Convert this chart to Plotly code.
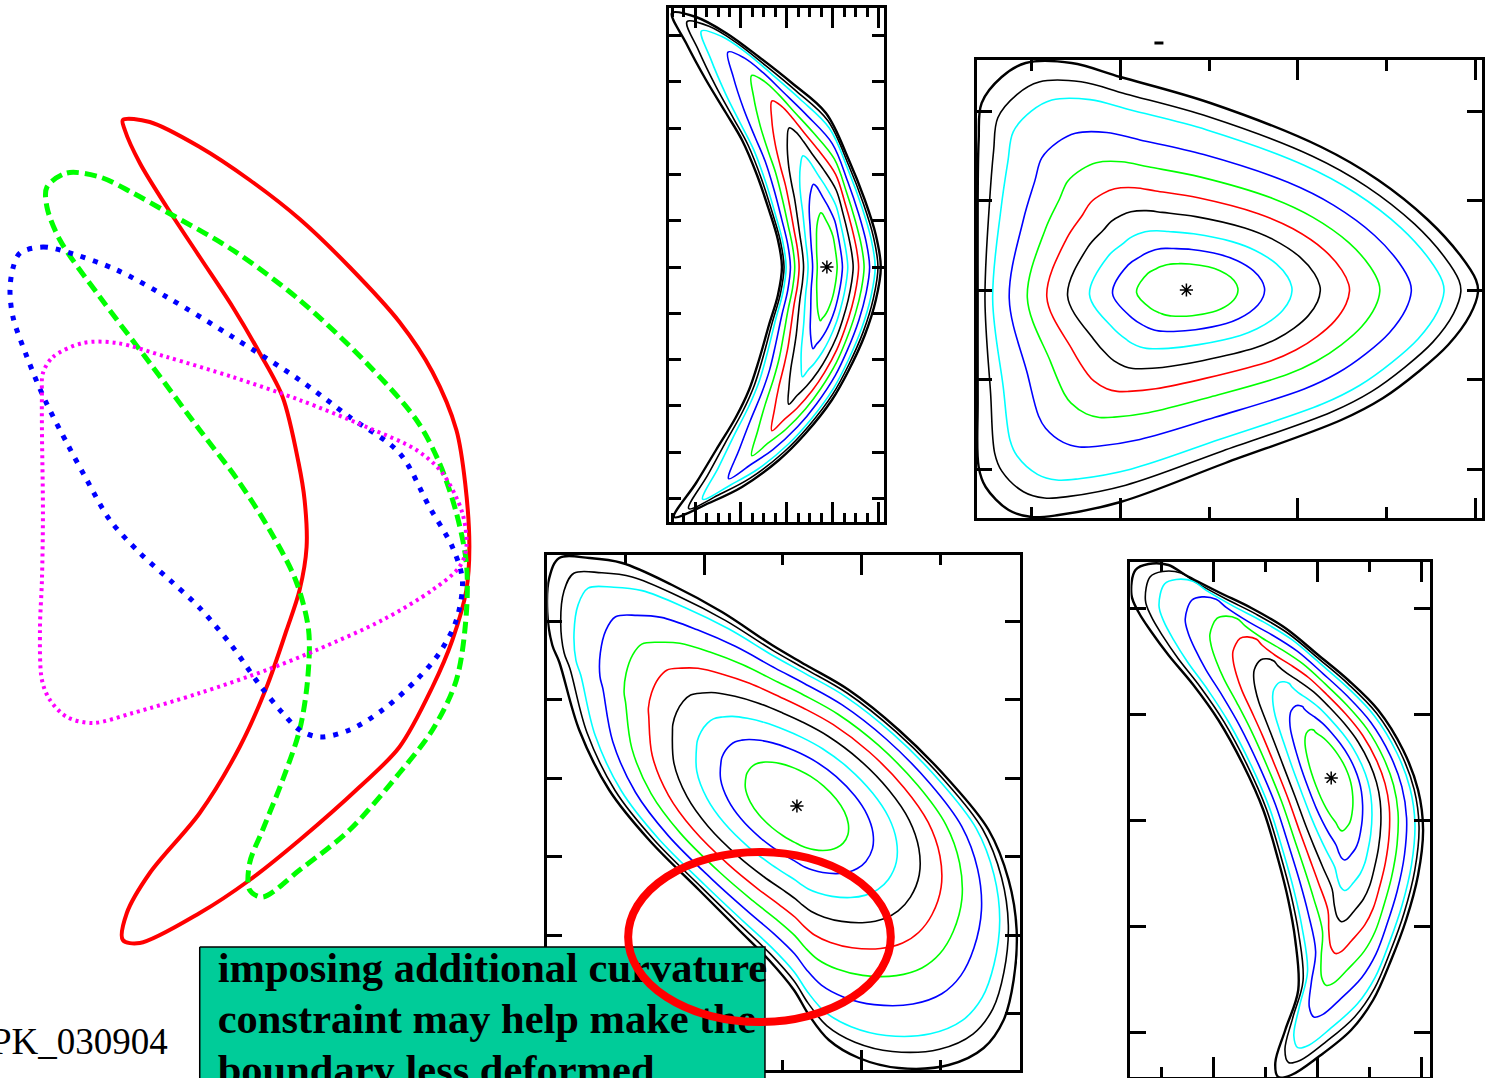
import numpy as np
import plotly.graph_objects as go

W, H = 1485, 1078

# ---------------- left: four boundary cross-sections (picture units, y down) ----------------
red_x = [123, 150, 200, 250, 300, 350, 400, 433, 457, 466, 470, 467, 453, 433, 400, 360, 300, 250, 200, 140, 123,
         127, 150, 200, 240, 267, 287, 300, 307, 305, 299, 283, 260, 233, 200, 167, 140, 125, 123]
red_y = [120, 122, 147, 180, 219, 267, 322, 372, 430, 485, 547, 590, 640, 687, 747, 787, 840, 880, 913, 943, 940,
         913, 873, 813, 747, 687, 630, 590, 547, 500, 463, 397, 353, 307, 257, 207, 163, 130, 120]

green_x = [47, 67, 100, 133, 167, 233, 300, 367, 417, 440, 457, 467, 467, 457, 433, 400, 350, 300, 263, 250, 250,
           263, 283, 300, 308, 309, 296, 270, 238, 200, 150, 100, 60, 47, 47]
green_y = [187, 173, 177, 193, 212, 250, 300, 363, 420, 463, 513, 563, 613, 680, 730, 773, 830, 870, 897, 890, 863,
           830, 780, 730, 680, 630, 580, 530, 480, 430, 363, 297, 240, 207, 187]

blue_x = [20, 43, 67, 117, 167, 233, 300, 350, 400, 430, 453, 463, 457, 440, 417, 383, 350, 320, 300, 283, 260,
          233, 200, 170, 140, 110, 87, 68, 45, 27, 13, 10, 13, 20]
blue_y = [253, 247, 252, 270, 297, 337, 380, 417, 453, 507, 547, 580, 620, 653, 680, 710, 730, 737, 730, 713, 685,
          647, 608, 580, 553, 520, 480, 445, 400, 357, 317, 290, 268, 253]

mag_x = [43, 53, 83, 117, 167, 233, 300, 367, 417, 443, 463, 467, 460, 433, 383, 317, 267, 200, 133, 93, 67, 50,
         42, 40, 42, 43, 42, 42, 43]
mag_y = [373, 357, 343, 343, 357, 377, 400, 427, 450, 473, 513, 547, 567, 590, 620, 650, 670, 693, 713, 723, 717,
         700, 680, 630, 580, 513, 430, 397, 373]

speck_x = [1156, 1165]
speck_y = [43, 43]

# ---------------- contour panels: boxes, boundaries, magnetic axes ----------------
# panel A (top middle, crescent)
A_box = [670, 885, 8, 522]
A_bx = [673, 697, 727, 760, 793, 827, 850, 866, 877, 882, 877, 866, 850, 833, 807, 780, 743, 710, 675,
        697, 717, 737, 750, 760, 770, 779, 783, 779, 770, 758, 743, 727, 707, 687, 673]
A_by = [13, 17, 33, 57, 83, 113, 160, 200, 235, 267, 300, 335, 370, 400, 433, 460, 487, 503, 517,
        483, 450, 417, 390, 360, 325, 295, 267, 240, 210, 175, 140, 113, 80, 43, 13]
A_axis = (828, 267)
A_bend = (530, 267)

# panel B (top right, rounded triangle)
B_box = [978, 1484, 60, 518]
B_bx = [980, 983, 1003, 1027, 1073, 1122, 1212, 1323, 1380, 1430, 1462, 1478, 1480, 1472, 1450, 1420, 1385, 1343,
        1227, 1122, 1060, 1033, 1010, 987, 980, 979, 979, 979, 980]
B_by = [140, 103, 77, 63, 63, 77, 103, 147, 180, 220, 255, 280, 292, 315, 345, 372, 398, 420,
        463, 502, 515, 517, 510, 487, 467, 400, 300, 200, 140]
B_axis = (1188, 290)
B_bend = None

# panel C (bottom middle, tilted drop)
C_box = [548, 1021, 555, 1070]
C_bx = [550, 560, 590, 623, 673, 723, 773, 807, 850, 900, 950, 990, 1010, 1018, 1015, 1005, 985, 950, 900, 860,
        830, 810, 795, 770, 740, 700, 650, 610, 580, 560, 553, 548, 550]
C_by = [578, 558, 558, 563, 585, 612, 645, 665, 690, 730, 780, 830, 880, 930, 980, 1020, 1048, 1065, 1068, 1058,
        1040, 1015, 990, 960, 930, 890, 840, 790, 730, 662, 645, 612, 578]
C_axis = (798, 806)
C_bend = None

# panel D (bottom right, banana)
D_box = [1132, 1432, 562, 1077]
D_bx = [1133, 1137, 1150, 1170, 1187, 1220, 1253, 1287, 1320, 1350, 1380, 1405, 1420, 1425, 1420, 1408, 1393, 1375,
        1353, 1320, 1293, 1280, 1277, 1287, 1300, 1297, 1290, 1280, 1265, 1245, 1220, 1195, 1170, 1153, 1140, 1133]
D_by = [595, 570, 564, 565, 575, 592, 608, 628, 655, 680, 710, 750, 790, 830, 875, 920, 960, 1000,
        1030, 1057, 1075, 1077, 1063, 1030, 990, 940, 900, 860, 810, 765, 720, 685, 655, 632, 612, 595]
D_axis = (1333, 778)
D_bend = (1000, 900)

# inner flux-surface labels (outer -> inner) and their colours
surf_rho = [0.95, 0.9, 0.8, 0.7, 0.6, 0.5, 0.4, 0.3, 0.2]
surf_col = ["black", "#00FFFF", "#0000FF", "#00FF00", "#FF0000", "black", "#00FFFF", "#0000FF", "#00FF00"]

# near-axis ellipse per panel in the local (radial, tangential) frame: semi-axes, tilt (deg), blend exponent
A_core = (250, 50, 90, 0.6)
B_core = (255, 125, 0, 1.5)
C_core = (300, 165, 35, 1.5)
D_core = (250, 90, 90, 0.7)

# panel ticks: (x tick0, x dtick, x minor dtick, y tick0, y dtick)
A_ticks = (788, 46, 11.5, 267, 46.3)
B_ticks = (1122, 177.5, 88.75, 290, 89.5)
C_ticks = (705, 158, 79, 778, 78.5)
D_ticks = (1215, 104, 52, 820, 106)

# annotation text
box_lines = ["imposing additional curvature", "constraint may help make the", "boundary less deformed"]
stamp = "PK_030904"


def surface(bx, by, axis, bend, core, rho):
    bx = np.asarray(bx, float)
    by = np.asarray(by, float)
    ax, ay = axis
    if bend is None:
        X, Y = bx - ax, by - ay
    else:
        ox, oy = bend
        v0 = np.hypot(ax - ox, ay - oy)
        u0 = np.arctan2(ay - oy, ax - ox)
        u = np.angle(np.exp(1j * (np.arctan2(by - oy, bx - ox) - u0)))
        X = np.hypot(bx - ox, by - oy) - v0
        Y = v0 * u
    ea, eb, tilt, p = core
    rB = np.hypot(X, Y)
    th = np.arctan2(Y, X)
    phi = th - np.radians(tilt)
    rE = ea * eb / np.sqrt((eb * np.cos(phi)) ** 2 + (ea * np.sin(phi)) ** 2)
    f = rho ** p
    R = rho * ((1 - f) * rE + f * rB)
    X2, Y2 = R * np.cos(th), R * np.sin(th)
    if bend is None:
        return ax + X2, ay + Y2
    u2 = Y2 / v0 + u0
    v2 = X2 + v0
    return ox + v2 * np.cos(u2), oy + v2 * np.sin(u2)


fig = go.Figure()
layout_axes = {}

panels = [
    ("", A_box, A_bx, A_by, A_axis, A_bend, A_core, A_ticks, (20, 9, 12)),
    ("2", B_box, B_bx, B_by, B_axis, B_bend, B_core, B_ticks, (20, 11, 15)),
    ("3", C_box, C_bx, C_by, C_axis, C_bend, C_core, C_ticks, (20, 10, 15)),
    ("4", D_box, D_bx, D_by, D_axis, D_bend, D_core, D_ticks, (20, 10, 16)),
]

for sid, box, bx, by, axis, bend, core, ticks, tl in panels:
    xa, ya = "x" + sid, "y" + sid
    for rho, col in zip(surf_rho, surf_col):
        sx, sy = surface(bx, by, axis, bend, core, rho)
        fig.add_trace(go.Scatter(x=sx, y=sy, mode="lines", xaxis=xa, yaxis=ya,
                                 line=dict(color=col, width=1.6, shape="spline", smoothing=1.0),
                                 hoverinfo="skip", showlegend=False))
    fig.add_trace(go.Scatter(x=bx, y=by, mode="lines", xaxis=xa, yaxis=ya,
                             line=dict(color="black", width=2.4, shape="spline", smoothing=1.0),
                             hoverinfo="skip", showlegend=False))
    fig.add_trace(go.Scatter(x=[axis[0]], y=[axis[1]], mode="markers", xaxis=xa, yaxis=ya,
                             marker=dict(symbol="asterisk-open", size=11, color="black",
                                         line=dict(color="black", width=1.5)),
                             hoverinfo="skip", showlegend=False))
    l, r, t, b = box
    common = dict(showline=True, linewidth=3, linecolor="black", mirror="allticks", ticks="inside",
                  tickwidth=3, tickcolor="black", showticklabels=False, showgrid=False, zeroline=False,
                  tickmode="linear")
    layout_axes["xaxis" + sid] = dict(common, domain=[l / W, r / W], range=[l, r], anchor=ya,
                                      tick0=ticks[0], dtick=ticks[1], ticklen=tl[0],
                                      minor=dict(tick0=ticks[0], dtick=ticks[2], ticklen=tl[1], ticks="inside",
                                                 tickwidth=3, tickcolor="black"))
    layout_axes["yaxis" + sid] = dict(common, domain=[1 - b / H, 1 - t / H], range=[b, t], anchor=xa,
                                      tick0=ticks[3], dtick=ticks[4], ticklen=tl[2])

# overlay canvas (last subplot -> drawn on top)
ov = dict(xaxis="x5", yaxis="y5", hoverinfo="skip", showlegend=False)
fig.add_trace(go.Scatter(x=red_x, y=red_y, mode="lines",
                         line=dict(color="#FF0000", width=4, shape="spline", smoothing=0.9), **ov))
fig.add_trace(go.Scatter(x=green_x, y=green_y, mode="lines",
                         line=dict(color="#00FF00", width=5, dash="12px,6px", shape="spline", smoothing=0.9), **ov))
fig.add_trace(go.Scatter(x=blue_x, y=blue_y, mode="lines",
                         line=dict(color="#0000FF", width=5, dash="5px,8px", shape="spline", smoothing=0.9), **ov))
fig.add_trace(go.Scatter(x=mag_x, y=mag_y, mode="lines",
                         line=dict(color="#FF00FF", width=4, dash="3px,4px", shape="spline", smoothing=0.9), **ov))
fig.add_trace(go.Scatter(x=speck_x, y=speck_y, mode="lines", line=dict(color="black", width=3), **ov))

# green note box
fig.add_trace(go.Scatter(x=[200, 766, 766, 200, 200], y=[947, 947, 1100, 1100, 947], mode="lines",
                         fill="toself", fillcolor="#00CC99", line=dict(color="black", width=1.5), **ov))
fig.add_trace(go.Scatter(x=[218, 218, 218], y=[971, 1022, 1073], mode="text", text=box_lines,
                         textposition="middle right",
                         textfont=dict(family="Liberation Serif", size=42.5, color="black", weight="bold"), **ov))
fig.add_trace(go.Scatter(x=[-9], y=[1045], mode="text", text=[stamp], textposition="middle right",
                         textfont=dict(family="Liberation Serif", size=37, color="black"), **ov))

layout_axes["xaxis5"] = dict(domain=[0, 1], range=[0, W], visible=False, anchor="y5")
layout_axes["yaxis5"] = dict(domain=[0, 1], range=[H, 0], visible=False, anchor="x5")

fig.update_layout(width=W, height=H, margin=dict(l=0, r=0, t=0, b=0),
                  paper_bgcolor="white", plot_bgcolor="rgba(0,0,0,0)", showlegend=False,
                  shapes=[dict(type="circle", xref="x5", yref="y5", x0=629, x1=892, y0=852, y1=1022,
                               line=dict(color="#FF0000", width=8), layer="above")],
                  **layout_axes)

fig.write_html("out.html", config={"displayModeBar": False},
               post_script="document.body.style.margin='0px';")
